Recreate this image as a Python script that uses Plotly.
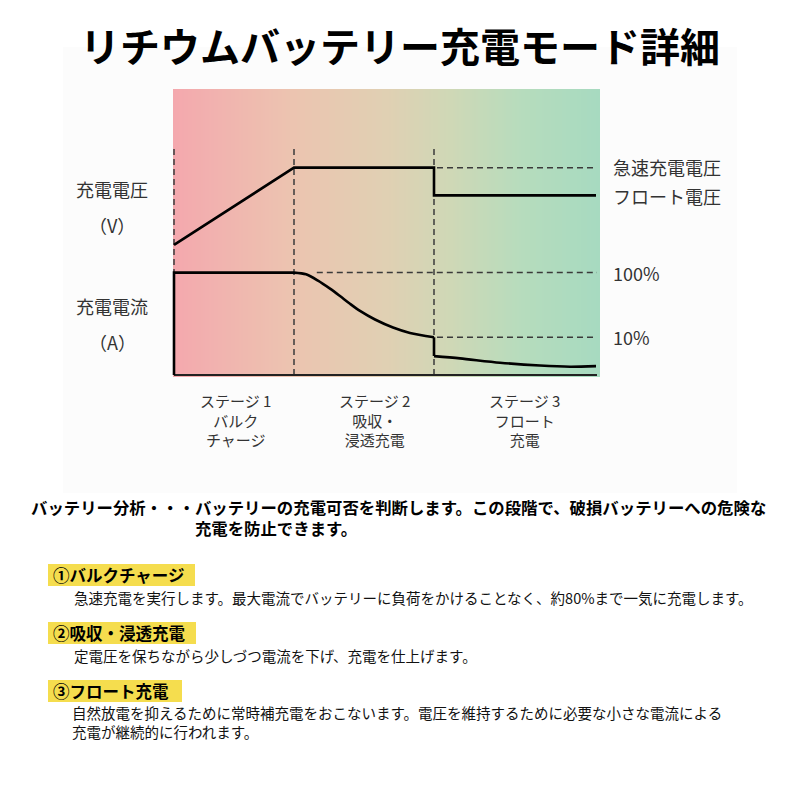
import plotly.graph_objects as go
import numpy as np

# ---------------- data (time units, arbitrary level units) ----------------
volt_t = [0, 30, 65, 65, 105.5]
volt_v = [45.5, 72.5, 72.5, 62.8, 62.8]

curr_t = [0, 0, 30, 33, 36, 39, 41.5, 44, 46.5, 50.25, 54.75, 59, 65,
          65, 71.5, 81.5, 91.5, 99, 105.5]
curr_v = [0, 35.8, 35.8, 35.2, 33.0, 30.2, 27.6, 24.9, 22.4, 19.4, 16.6, 14.7, 13.2,
          6.6, 5.8, 4.3, 3.3, 2.9, 3.1]

stage_bounds = [0, 30, 65]
stage_top = 79.4
bulk_level = 72.5
float_level = 62.8
i100_level = 35.8
i10_level = 13.2
t_end = 105.5

stage_centers = [15.25, 50.1, 87.6]
stage_labels = ["ステージ 1<br>バルク<br>チャージ",
                "ステージ 2<br>吸収・<br>浸透充電",
                "ステージ 3<br>フロート<br>充電"]

right_labels = ["急速充電電圧", "フロート電圧", "100%", "10%"]
right_levels = [bulk_level + 0.3, float_level - 0.3, i100_level, i10_level]

grad_stops = [[0.0, "#F4A8AE"], [0.28, "#ECC4B0"], [0.5, "#E0D0B3"],
              [0.65, "#CFD8B6"], [0.82, "#B6DCBD"], [1.0, "#A7DAC0"]]

FONT = "Noto Sans CJK JP"
W = H = 800

def px(x):
    return x / W

def py(y):
    return 1 - y / H

fig = go.Figure()

# gradient background
edges = np.linspace(-0.25, 106.5, 201)
zvals = [list((edges[:-1] + edges[1:]) / 2)]
fig.add_trace(go.Heatmap(x=edges, y=[-0.6, 100], z=zvals, colorscale=grad_stops,
                         showscale=False, hoverinfo="skip"))

dash_style = dict(color="#3a3a3a", width=1.5, dash="6px,4px")

# vertical dashed stage separators
for b in stage_bounds:
    fig.add_trace(go.Scatter(x=[b, b], y=[0, stage_top], mode="lines",
                             line=dash_style, hoverinfo="skip"))

# horizontal dashed reference levels
fig.add_trace(go.Scatter(x=[65.75, t_end + 0.25], y=[bulk_level, bulk_level], mode="lines",
                         line=dash_style, hoverinfo="skip"))
fig.add_trace(go.Scatter(x=[35.7, t_end + 0.25], y=[i100_level, i100_level], mode="lines",
                         line=dash_style, hoverinfo="skip"))
fig.add_trace(go.Scatter(x=[65.75, t_end + 0.25], y=[i10_level, i10_level], mode="lines",
                         line=dash_style, hoverinfo="skip"))

# baseline
fig.add_trace(go.Scatter(x=[0, t_end + 0.25], y=[0, 0], mode="lines",
                         line=dict(color="#222222", width=2.2), hoverinfo="skip"))

# voltage
fig.add_trace(go.Scatter(x=volt_t, y=volt_v, mode="lines",
                         line=dict(color="#000000", width=2.6), hoverinfo="skip"))
# current: straight pieces and smooth pieces
segments = [(0, 3, "linear"), (2, 13, "spline"), (12, 14, "linear"), (13, len(curr_t), "spline")]
for a, b, shp in segments:
    fig.add_trace(go.Scatter(x=curr_t[a:b], y=curr_v[a:b], mode="lines", line_shape=shp,
                             line=dict(color="#000000", width=2.6, smoothing=0.8), hoverinfo="skip"))

ann = []
def add_text(x, y, text, size, color, xanchor="center", yanchor="middle", xref="paper", yref="paper", align="center"):
    ann.append(dict(x=x, y=y, xref=xref, yref=yref, text=text, showarrow=False,
                    xanchor=xanchor, yanchor=yanchor, align=align,
                    font=dict(family=FONT, size=size, color=color)))

# title
add_text(0.5, py(45), "<b>リチウムバッテリー充電モード詳細</b>", 40, "#000000")
# left labels
for txt, y in [("充電電圧", 189), ("（V）", 225), ("充電電流", 306), ("（A）", 342)]:
    add_text(px(112), py(y), txt, 18, "#333333")
# right labels
for txt, lv in zip(right_labels, right_levels):
    add_text(px(611), lv, txt, 18, "#333333", xanchor="left", yref="y")
# stage labels
for c, txt in zip(stage_centers, stage_labels):
    add_text(c, py(388), txt, 15, "#333333", yanchor="top", xref="x")

# bold paragraph (two lines, second indented)
add_text(px(29), py(493), "<b>バッテリー分析・・・バッテリーの充電可否を判断します。この段階で、破損バッテリーへの危険な<br>"
         + "　" * 10 + "充電を防止できます。</b>", 16.4, "#000000", xanchor="left", yanchor="top", align="left")

heads = [("①バルクチャージ", 575, 195), ("②吸収・浸透充電", 633, 196), ("③フロート充電", 691, 182)]
bodies = [("急速充電を実行します。最大電流でバッテリーに負荷をかけることなく、約80%まで一気に充電します。", 72, 597),
          ("定電圧を保ちながら少しづつ電流を下げ、充電を仕上げます。", 72, 655),
          ("自然放電を抑えるために常時補充電をおこないます。電圧を維持するために必要な小さな電流による<br>"
           "充電が継続的に行われます。", 70, 722)]

shapes = [dict(type="rect", xref="paper", yref="paper", x0=px(63), x1=px(737), y0=py(493), y1=py(47),
               fillcolor="#FCFCFC", line=dict(width=0), layer="below")]
for txt, y, xr in heads:
    shapes.append(dict(type="rect", xref="paper", yref="paper", x0=px(48), x1=px(xr),
                       y0=py(y + 11), y1=py(y - 11), fillcolor="#F5DD4E", line=dict(width=0), layer="below"))
    add_text(px(51), py(y), "<b>" + txt + "</b>", 16.5, "#000000", xanchor="left")
for txt, x, y in bodies:
    add_text(px(x), py(y), txt, 14.5, "#111111", xanchor="left", align="left")

fig.update_layout(
    width=W, height=H, margin=dict(l=0, r=0, t=0, b=0),
    paper_bgcolor="#FFFFFF", plot_bgcolor="rgba(0,0,0,0)", showlegend=False,
    xaxis=dict(range=[-1, 106.5], domain=[px(170), px(600)], visible=False, fixedrange=True),
    yaxis=dict(range=[-1.5, 100], domain=[py(375 + 1.5 * 2.86), py(89)], visible=False, fixedrange=True),
    annotations=ann, shapes=shapes,
)

fig.write_html("out.html", config={"displayModeBar": False},
               post_script="document.body.style.margin='0';document.body.style.padding='0';")
